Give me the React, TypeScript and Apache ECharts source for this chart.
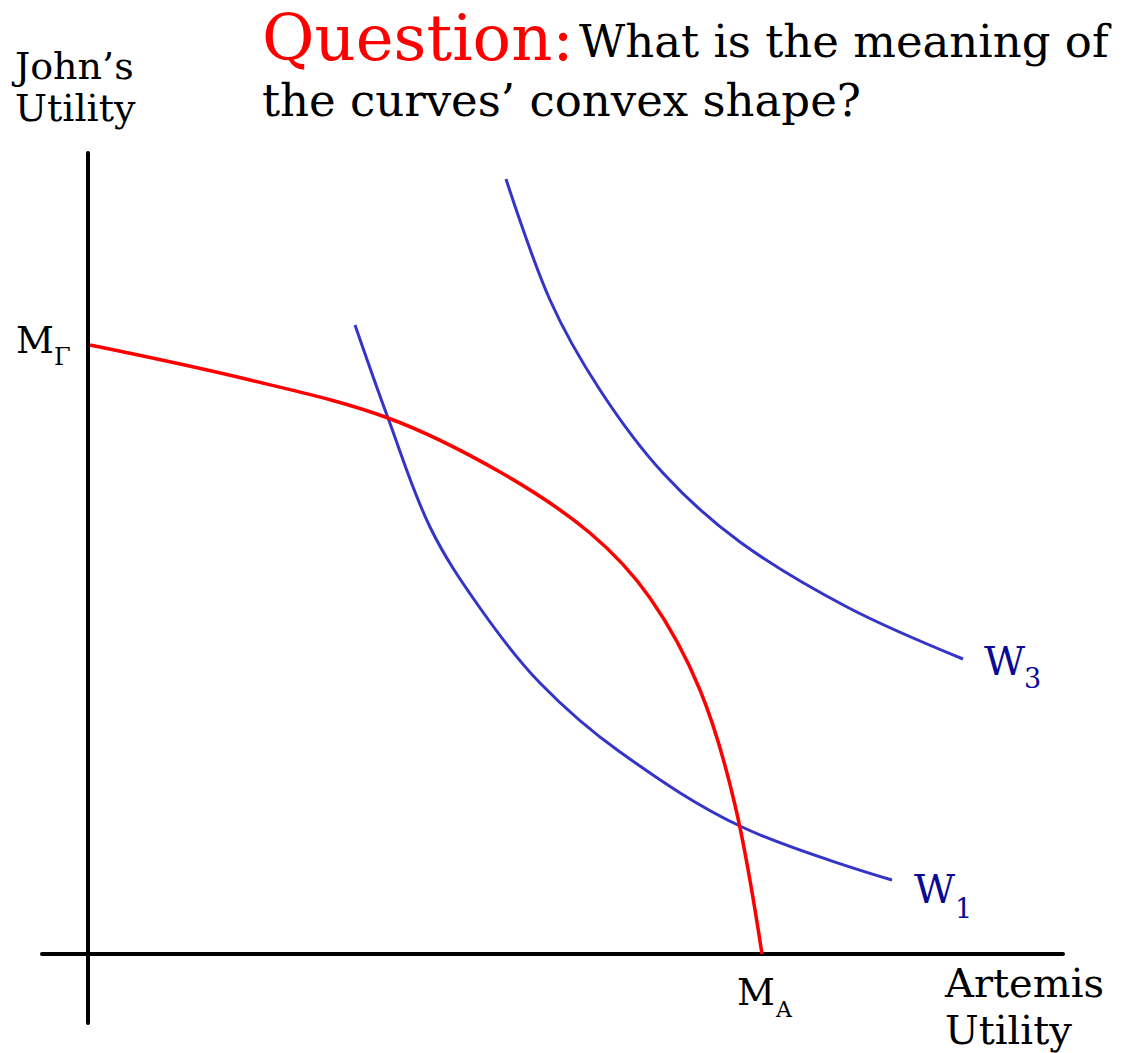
import React, { useEffect, useRef } from "react";
import * as echarts from "echarts";

// Data: x = Artemis utility, y = John's utility (arbitrary units)
const redFrontier: [number, number][] = [
  [2, 609], [162, 574], [300, 536], [412, 482], [502, 421], [562, 356],
  [612, 264], [647, 149], [674, 0],
];
const w1Curve: [number, number][] = [
  [267, 629], [300, 536], [342, 427], [392, 346], [452, 271], [532, 202],
  [654, 127], [804, 74],
];
const w3Curve: [number, number][] = [
  [418, 775], [462, 654], [512, 564], [575, 481], [652, 412], [759, 347],
  [875, 295],
];
const xRange = [-46, 975];
const yRange = [-69, 801];

const FONT = "DejaVu Serif";

function txt(text: string, x: number, y: number, size: number, color = "#000") {
  return {
    type: "text",
    x,
    y,
    style: {
      text,
      fill: color,
      font: `${size}px "${FONT}"`,
      textAlign: "left",
      textVerticalAlign: "middle",
      verticalAlign: "middle",
    },
  };
}

export default function App() {
  const ref = useRef<HTMLDivElement>(null);
  useEffect(() => {
    if (!ref.current) return;
    const chart = echarts.init(ref.current, undefined, { renderer: "svg" });
    const blue = "#3434C8";
    const navy = "#0A0A96";
    const axisCommon = {
      type: "value",
      axisLine: { show: true, onZero: true, lineStyle: { color: "#000", width: 4 } },
      axisTick: { show: false },
      axisLabel: { show: false },
      splitLine: { show: false },
    };
    const curve = (data: [number, number][], color: string, width: number, z: number) => ({
      type: "line",
      data,
      smooth: 0.35,
      showSymbol: false,
      lineStyle: { color, width },
      z,
    });
    chart.setOption({
      animation: false,
      backgroundColor: "#fff",
      grid: { left: 42, right: 72, top: 153, bottom: 30, containLabel: false },
      xAxis: { ...axisCommon, min: xRange[0], max: xRange[1] },
      yAxis: { ...axisCommon, min: yRange[0], max: yRange[1] },
      series: [
        curve(redFrontier, "#FF0000", 3.5, 3),
        curve(w1Curve, blue, 3, 2),
        curve(w3Curve, blue, 3, 2),
      ],
      graphic: [
        txt("Question:", 262, 38, 64, "#FF0000"),
        txt("What is the meaning of", 579, 41, 45),
        txt("the curves\u2019 convex shape?", 262, 100, 45),
        txt("John\u2019s", 15, 66, 38),
        txt("Utility", 15, 108, 38),
        txt("M", 16, 340, 37),
        txt("\u0393", 54, 357, 24),
        txt("M", 737, 992, 37),
        txt("A", 776, 1009, 22),
        txt("Artemis", 945, 983, 40),
        txt("Utility", 945, 1030, 40),
        txt("W", 984, 661, 40, navy),
        txt("3", 1024, 678, 27, navy),
        txt("W", 914, 889, 40, navy),
        txt("1", 955, 908, 27, navy),
      ],
    });
    return () => chart.dispose();
  }, []);
  return (
    <div
      ref={ref}
      style={{ position: "fixed", left: 0, top: 0, width: 1135, height: 1053 }}
    />
  );
}
